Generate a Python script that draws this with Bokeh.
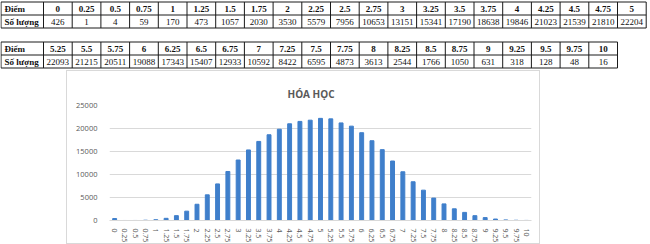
from bokeh.plotting import figure
from bokeh.models import Range1d, FactorRange, FixedTicker, Spacer, ColumnDataSource
from bokeh.layouts import column, row
from bokeh.core.properties import value
from bokeh.embed import file_html
from bokeh.resources import INLINE

# ---- data ----
scores = ["0", "0.25", "0.5", "0.75", "1", "1.25", "1.5", "1.75", "2", "2.25", "2.5",
          "2.75", "3", "3.25", "3.5", "3.75", "4", "4.25", "4.5", "4.75", "5",
          "5.25", "5.5", "5.75", "6", "6.25", "6.5", "6.75", "7", "7.25", "7.5",
          "7.75", "8", "8.25", "8.5", "8.75", "9", "9.25", "9.5", "9.75", "10"]
counts = [426, 1, 4, 59, 170, 473, 1057, 2030, 3530, 5579, 7956,
          10653, 13151, 15341, 17190, 18638, 19846, 21023, 21539, 21810, 22204,
          22093, 21215, 20511, 19088, 17343, 15407, 12933, 10592, 8422, 6595,
          4873, 3613, 2544, 1766, 1050, 631, 318, 128, 48, 16]
row_head = "Điểm"
row_count = "Số lượng"
chart_title = "HÓA HỌC"
y_ticks = [0, 5000, 10000, 15000, 20000, 25000]

# ---- tables figure ----
W, H_T = 650, 70
t = figure(width=W, height=H_T, x_range=Range1d(0, W), y_range=Range1d(H_T, 0),
           x_axis_type=None, y_axis_type=None, toolbar_location=None,
           output_backend="svg", min_border=0)
t.grid.visible = False
t.outline_line_color = None

first_w = 43.0
col_w = 28.7
row_h = 13.0
tables = [(scores[:21], counts[:21], 1.5), (scores[21:], counts[21:], 41.5)]
serif = value("Liberation Serif")
for sc, ct, top in tables:
    n = len(sc)
    right = first_w + n * col_w
    ys = [top, top + row_h, top + 2 * row_h]
    t.segment(x0=[0.5] * 3, x1=[right] * 3, y0=ys, y1=ys, line_color="#1a1a1a", line_width=1)
    xs = [0.5, first_w] + [first_w + (i + 1) * col_w for i in range(n)]
    t.segment(x0=xs, x1=xs, y0=[top] * len(xs), y1=[top + 2 * row_h] * len(xs),
              line_color="#1a1a1a", line_width=1)
    cx = [first_w + (i + 0.5) * col_w for i in range(n)]
    t.text(x=[4, 4], y=[top + row_h / 2 + 0.5, top + 1.5 * row_h + 0.5], text=[row_head, row_count],
           text_font=serif, text_font_size="9px", text_font_style="bold",
           text_align="left", text_baseline="middle", text_color="#111111")
    t.text(x=cx, y=[top + row_h / 2 + 0.5] * n, text=sc, text_font=serif, text_font_size="9px",
           text_font_style="bold", text_align="center", text_baseline="middle", text_color="#111111")
    t.text(x=cx, y=[top + 1.5 * row_h + 0.5] * n, text=[str(c) for c in ct], text_font=serif,
           text_font_size="9px", text_align="center", text_baseline="middle", text_color="#111111")

# ---- chart ----
src = ColumnDataSource(dict(x=scores, y=counts))
p = figure(width=474, height=174, x_range=FactorRange(*scores), y_range=Range1d(0, 25000),
           toolbar_location=None, output_backend="svg",
           min_border_left=42, min_border_right=10, min_border_top=34, min_border_bottom=20,
           title=chart_title, styles={"border": "1px solid #d9d9d9", "box-sizing": "border-box"})
p.x_range.range_padding = 0
p.vbar(x="x", top="y", width=0.38, source=src, color="#3F7FCB")
p.title.align = "left"
p.title.offset = 178
p.title.standoff = 9
p.title.text_font = "Open Sans"
p.title.text_font_size = "10px"
p.title.text_font_style = "bold"
p.title.text_color = "#595959"
p.outline_line_color = None

p.xaxis.axis_line_color = "#d9d9d9"
p.xaxis.major_tick_line_color = None
p.xaxis.minor_tick_line_color = None
p.xaxis.major_label_orientation = "vertical"
p.xaxis.major_label_text_font = "Open Sans"
p.xaxis.major_label_text_font_size = "7px"
p.xaxis.major_label_text_color = "#595959"
p.xaxis.major_label_standoff = 2
p.xgrid.visible = False

p.yaxis.ticker = FixedTicker(ticks=y_ticks)
p.yaxis.axis_line_color = None
p.yaxis.major_tick_line_color = None
p.yaxis.minor_tick_line_color = None
p.yaxis.major_label_text_font = "Open Sans"
p.yaxis.major_label_text_font_size = "7.5px"
p.yaxis.major_label_text_color = "#595959"
p.yaxis.major_label_standoff = 6
p.ygrid.ticker = FixedTicker(ticks=y_ticks)
p.ygrid.grid_line_color = "#d9d9d9"

layout = column(t, row(Spacer(width=66, height=174), p, Spacer(width=110, height=174)))
open("out.html", "w").write(file_html(layout, INLINE))
